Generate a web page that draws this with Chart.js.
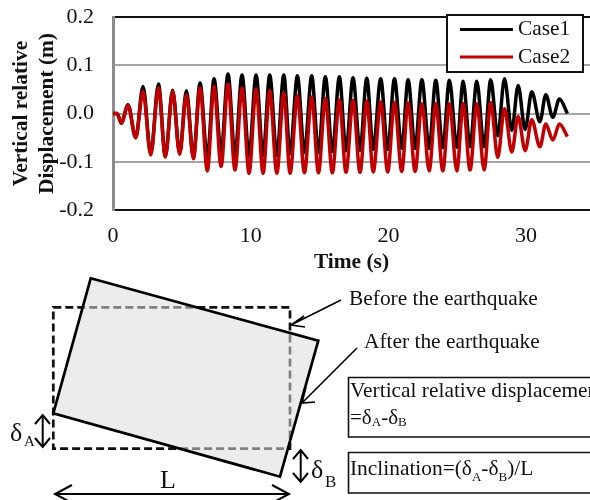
<!DOCTYPE html>
<html>
<head>
<meta charset="utf-8">
<script src="https://cdn.jsdelivr.net/npm/chart.js@4"></script>
<style>
  html, body { margin: 0; padding: 0; background: #fff; overflow: hidden; }
  #wrap { position: relative; width: 590px; height: 500px; overflow: hidden; }
  #chartBox { position: absolute; left: 0; top: 0; width: 590px; height: 275px; }
  svg { position: absolute; left: 0; top: 0; }
  svg text { font-family: "Liberation Serif", serif; fill: #111; }
</style>
</head>
<body>
<div id="wrap">
  <div id="chartBox"><canvas id="dispChart" width="590" height="275"></canvas></div>
  <svg width="590" height="500" viewBox="0 0 590 500">
    <defs>
      <clipPath id="afterClip"><polygon points="90.7,278.3 318.3,340.7 280,476.7 53.3,413.3"/></clipPath>
    </defs>
    <!-- before / after outlines -->
    <rect x="53.3" y="307.3" width="236.7" height="141.4" fill="none" stroke="#111" stroke-width="2.7" stroke-dasharray="8 4"/>
    <polygon points="90.7,278.3 318.3,340.7 280,476.7 53.3,413.3" fill="#ececec"/>
    <rect x="53.3" y="307.3" width="236.7" height="141.4" fill="none" stroke="#808080" stroke-width="2.7" stroke-dasharray="8 4" clip-path="url(#afterClip)"/>
    <polygon points="90.7,278.3 318.3,340.7 280,476.7 53.3,413.3" fill="none" stroke="#000" stroke-width="2.7"/>

    <!-- leader arrows -->
    <g fill="none" stroke="#000" stroke-width="1.6">
      <path d="M341 300 L291 325 M304 316 L291 325 L305 327"/>
      <path d="M357 348 L302 403 M306 387 L302 403 L315 402"/>
      <path d="M42.7 415 V447 M35 424 L42.7 415 L50 424 M35 438 L42.7 447 L50 438" stroke-width="2"/>
      <path d="M300.7 450 V482 M293 459 L300.7 450 L308 459 M293 473 L300.7 482 L308 473" stroke-width="2"/>
      <path d="M55 494 H289 M72 485 L55 494 L72 503 M272 485 L289 494 L272 503" stroke-width="2"/>
    </g>

    <text x="10" y="441" font-size="26">δ</text>
    <text x="24" y="446" font-size="15">A</text>
    <text x="311" y="478" font-size="26">δ</text>
    <text x="325" y="487" font-size="17">B</text>
    <text x="160" y="488" font-size="26">L</text>

    <text x="349" y="305" font-size="21.4">Before the earthquake</text>
    <text x="364" y="348" font-size="21.4">After the earthquake</text>

    <!-- formula boxes run off the right edge -->
    <path d="M600 377.5 H348.5 V437 H600 M600 452.5 H348.5 V493 H600" fill="none" stroke="#111" stroke-width="1.6"/>
    <text x="350" y="397" font-size="21.4">Vertical relative displacement</text>
    <text x="350" y="424" font-size="21">=δ<tspan font-size="13" dy="2">A</tspan><tspan dy="-2">-δ</tspan><tspan font-size="13" dy="2">B</tspan></text>
    <text x="350" y="475" font-size="21.4">Inclination=(δ<tspan font-size="13" dy="6">A</tspan><tspan dy="-6">-δ</tspan><tspan font-size="13" dy="6">B</tspan><tspan dy="-6">)/L</tspan></text>
  </svg>
</div>

<script>
// one entry per crest/trough, shared time base for both cases
const timeS = [0, 0.3, 0.6, 1.09, 1.65, 2.18, 2.74, 3.3, 3.8, 4.33, 4.84, 5.33, 5.84, 6.32, 6.85, 7.34, 7.85, 8.35, 8.86, 9.37,
  9.88, 10.39, 10.9, 11.38, 11.9, 12.4, 12.86, 13.39, 13.9, 14.43, 14.92, 15.42, 15.93, 16.44, 16.92, 17.43, 17.94, 18.43,
  18.9, 19.44, 19.95, 20.44, 20.97, 21.43, 21.94, 22.43, 22.96, 23.44, 23.95, 24.43, 24.97, 25.43, 25.93, 26.42, 26.95,
  27.43, 27.94, 28.43, 28.96, 29.42, 29.93, 30.41, 31.0, 31.43, 31.94, 32.42, 33.0];

const case1Disp = [0, 0, -0.02, 0.018, -0.05, 0.056, -0.083, 0.061, -0.088, 0.048, -0.082, 0.047, -0.09, 0.063, -0.09, 0.072,
  -0.08, 0.082, -0.086, 0.08, -0.088, 0.08, -0.087, 0.08, -0.087, 0.08, -0.083, 0.078, -0.081, 0.078, -0.081, 0.076, -0.079,
  0.076, -0.077, 0.074, -0.076, 0.073, -0.074, 0.072, -0.074, 0.072, -0.072, 0.07, -0.072, 0.07, -0.072, 0.069, -0.071, 0.069,
  -0.07, 0.067, -0.069, 0.067, -0.069, 0.07, -0.046, 0.072, -0.035, 0.058, -0.033, 0.045, -0.017, 0.039, -0.008, 0.03, 0];

const case2Disp = [0, 0, -0.02, 0.017, -0.05, 0.046, -0.086, 0.053, -0.09, 0.046, -0.085, 0.039, -0.094, 0.053, -0.119, 0.056,
  -0.11, 0.061, -0.117, 0.053, -0.124, 0.051, -0.124, 0.047, -0.124, 0.042, -0.124, 0.037, -0.123, 0.034, -0.123, 0.031, -0.123,
  0.028, -0.122, 0.027, -0.122, 0.026, -0.121, 0.024, -0.121, 0.023, -0.12, 0.022, -0.12, 0.02, -0.119, 0.02, -0.119, 0.02,
  -0.119, 0.02, -0.117, 0.02, -0.117, 0.023, -0.091, 0.01, -0.08, -0.006, -0.077, -0.013, -0.069, -0.022, -0.055, -0.022, -0.048];

const seriesNames = ['Case1', 'Case2'];
const seriesColors = ['#000000', '#C00000'];
const yTitle = ['Vertical relative', 'Displacement (m)'];
const xTitle = 'Time (s)';

const SERIF = '"Liberation Serif", serif';
const toPoints = vals => vals.map((v, i) => ({ x: timeS[i], y: v }));

// boxed legend sits over the top right corner of the plot
const boxedLegend = {
  id: 'boxedLegend',
  afterDraw(chart) {
    const ctx = chart.ctx;
    ctx.save();
    ctx.fillStyle = '#fff';
    ctx.strokeStyle = '#111';
    ctx.lineWidth = 2;
    ctx.fillRect(447, 15, 136, 57);
    ctx.strokeRect(447, 15, 136, 57);
    chart.data.datasets.forEach((ds, i) => {
      const y = 29.5 + i * 27.5;
      ctx.strokeStyle = ds.borderColor;
      ctx.lineWidth = 3;
      ctx.beginPath();
      ctx.moveTo(460, y);
      ctx.lineTo(513, y);
      ctx.stroke();
      ctx.fillStyle = '#111';
      ctx.font = '21.4px ' + SERIF;
      ctx.textBaseline = 'middle';
      ctx.fillText(ds.label, 518, y);
    });
    ctx.restore();
  }
};

new Chart(document.getElementById('dispChart'), {
  type: 'line',
  data: {
    datasets: [
      // lower order draws on top, red has to cover black
      { label: seriesNames[0], order: 2, data: toPoints(case1Disp), borderColor: seriesColors[0], borderWidth: 3.5, pointRadius: 0, cubicInterpolationMode: 'monotone' },
      { label: seriesNames[1], order: 1, data: toPoints(case2Disp), borderColor: seriesColors[1], borderWidth: 3.5, pointRadius: 0, cubicInterpolationMode: 'monotone' }
    ]
  },
  options: {
    responsive: false,
    animation: false,
    layout: { padding: { top: 17, right: 0, bottom: 0, left: 8 } },
    plugins: { legend: { display: false }, tooltip: { enabled: false } },
    scales: {
      x: {
        type: 'linear',
        min: 0,
        max: 34.64,
        afterFit: s => { s.height = 65; s.paddingLeft = 0; s.paddingRight = 0; },
        border: { display: false },
        grid: { display: false, drawTicks: false },
        ticks: {
          stepSize: 10,
          includeBounds: false,
          maxRotation: 0,
          padding: 13,
          color: '#111',
          font: { family: SERIF, size: 22 }
        },
        title: { display: true, text: xTitle, color: '#111', font: { family: SERIF, size: 21.4, weight: 'bold' }, padding: { top: 4, bottom: 0 } }
      },
      y: {
        min: -0.2,
        max: 0.2,
        afterFit: s => { s.width = 105; s.paddingTop = 0; s.paddingBottom = 0; },
        border: { display: true, color: '#8c8c8c', width: 3 },
        grid: {
          drawTicks: false,
          lineWidth: 2,
          color: c => Math.abs(c.tick.value) > 0.19 ? '#111' : '#a6a6a6'
        },
        ticks: {
          stepSize: 0.1,
          padding: 19,
          color: '#111',
          font: { family: SERIF, size: 22 },
          callback: v => v.toFixed(1)
        },
        title: { display: true, text: yTitle, color: '#111', font: { family: SERIF, size: 21.4, weight: 'bold', lineHeight: 1.22 }, padding: 0 }
      }
    }
  },
  plugins: [boxedLegend]
});
</script>
</body>
</html>
